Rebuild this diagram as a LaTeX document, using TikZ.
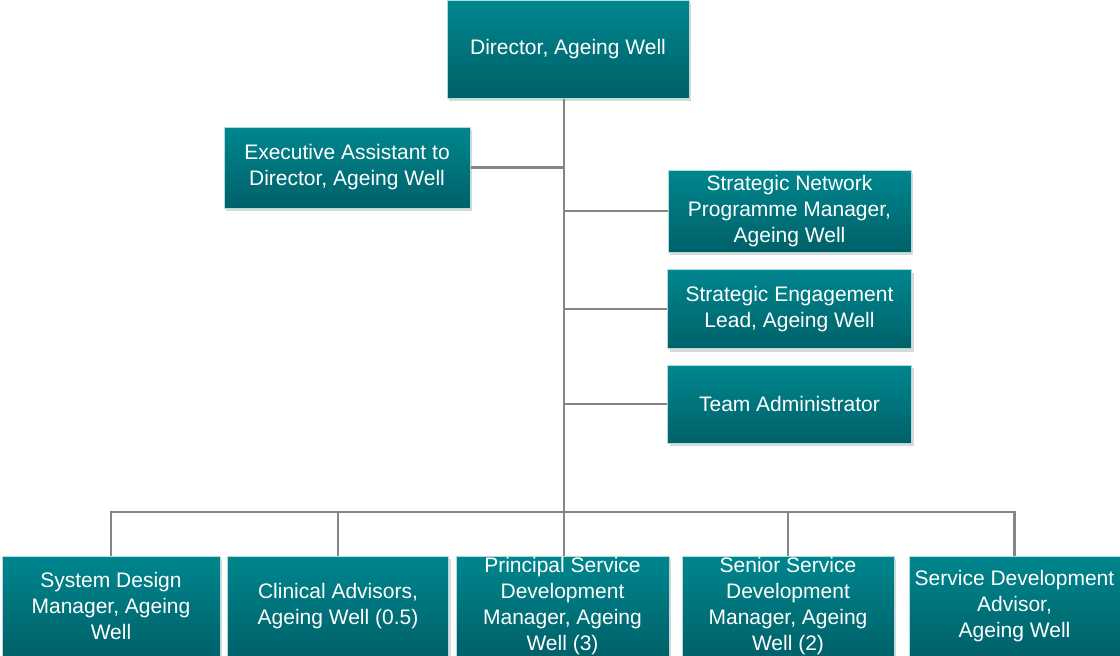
\documentclass[tikz,border=0pt]{standalone}
\usepackage{fontspec}
\setmainfont{Liberation Sans}
\usetikzlibrary{shadows}
\definecolor{tealtop}{HTML}{00868E}
\definecolor{tealbot}{HTML}{006169}
\definecolor{linkgray}{HTML}{858585}
\begin{document}
\begin{tikzpicture}[x=1pt,y=-1pt,
    post/.style={rectangle,inner sep=0pt,align=center,text=white,
      top color=tealtop,bottom color=tealbot,draw=white!70!tealtop,line width=1pt,
      font=\fontsize{21}{26}\selectfont,
      drop shadow={shadow xshift=2pt,shadow yshift=-3pt,opacity=.3}},
    link/.style={draw=linkgray,line width=2.5pt}]
        \useasboundingbox (0,0) rectangle (1120,656);
        \node[post,minimum width=242,minimum height=98] (dir) at (568,49) {Director, Ageing Well};
        \node[post,minimum width=246,minimum height=81] (exec) at (347,167.5) {Executive Assistant to\\Director, Ageing Well};
        \node[post,minimum width=243,minimum height=82] (snet) at (789.5,211) {Strategic Network\\Programme Manager,\\Ageing Well};
        \node[post,minimum width=244,minimum height=79] (seng) at (789.5,309) {Strategic Engagement\\Lead, Ageing Well};
        \node[post,minimum width=244,minimum height=78] (tadm) at (789.5,404) {Team Administrator};
        \node[post,minimum width=218,minimum height=100] (sysd) at (111,606) {System Design\\Manager, Ageing\\Well};
        \node[post,minimum width=221,minimum height=100] (clin) at (338,606) {Clinical Advisors,\\Ageing Well (0.5)};
        \node[post,minimum width=213,minimum height=100] (prin) at (562.5,606) {Principal Service\\Development\\Manager, Ageing\\Well (3)};
        \node[post,minimum width=212,minimum height=100] (senr) at (788,606) {Senior Service\\Development\\Manager, Ageing\\Well (2)};
        \node[post,minimum width=211,minimum height=100] (sdev) at (1014.5,606) {Service Development\\Advisor,\\Ageing Well};
        \coordinate (bus) at (564,512);
        \draw[link] (dir.south -| bus) -- (prin.north -| bus);
        \draw[link] (exec.east) -- (exec.east -| bus);
        \draw[link] (snet.west -| bus) -- (snet.west);
        \draw[link] (seng.west -| bus) -- (seng.west);
        \draw[link] (tadm.west -| bus) -- (tadm.west);
        \draw[link] (sysd.north) |- (bus) -| (sdev.north);
        \draw[link] (clin.north) -- (clin.north |- bus);
        \draw[link] (senr.north) -- (senr.north |- bus);
\end{tikzpicture}
\end{document}
